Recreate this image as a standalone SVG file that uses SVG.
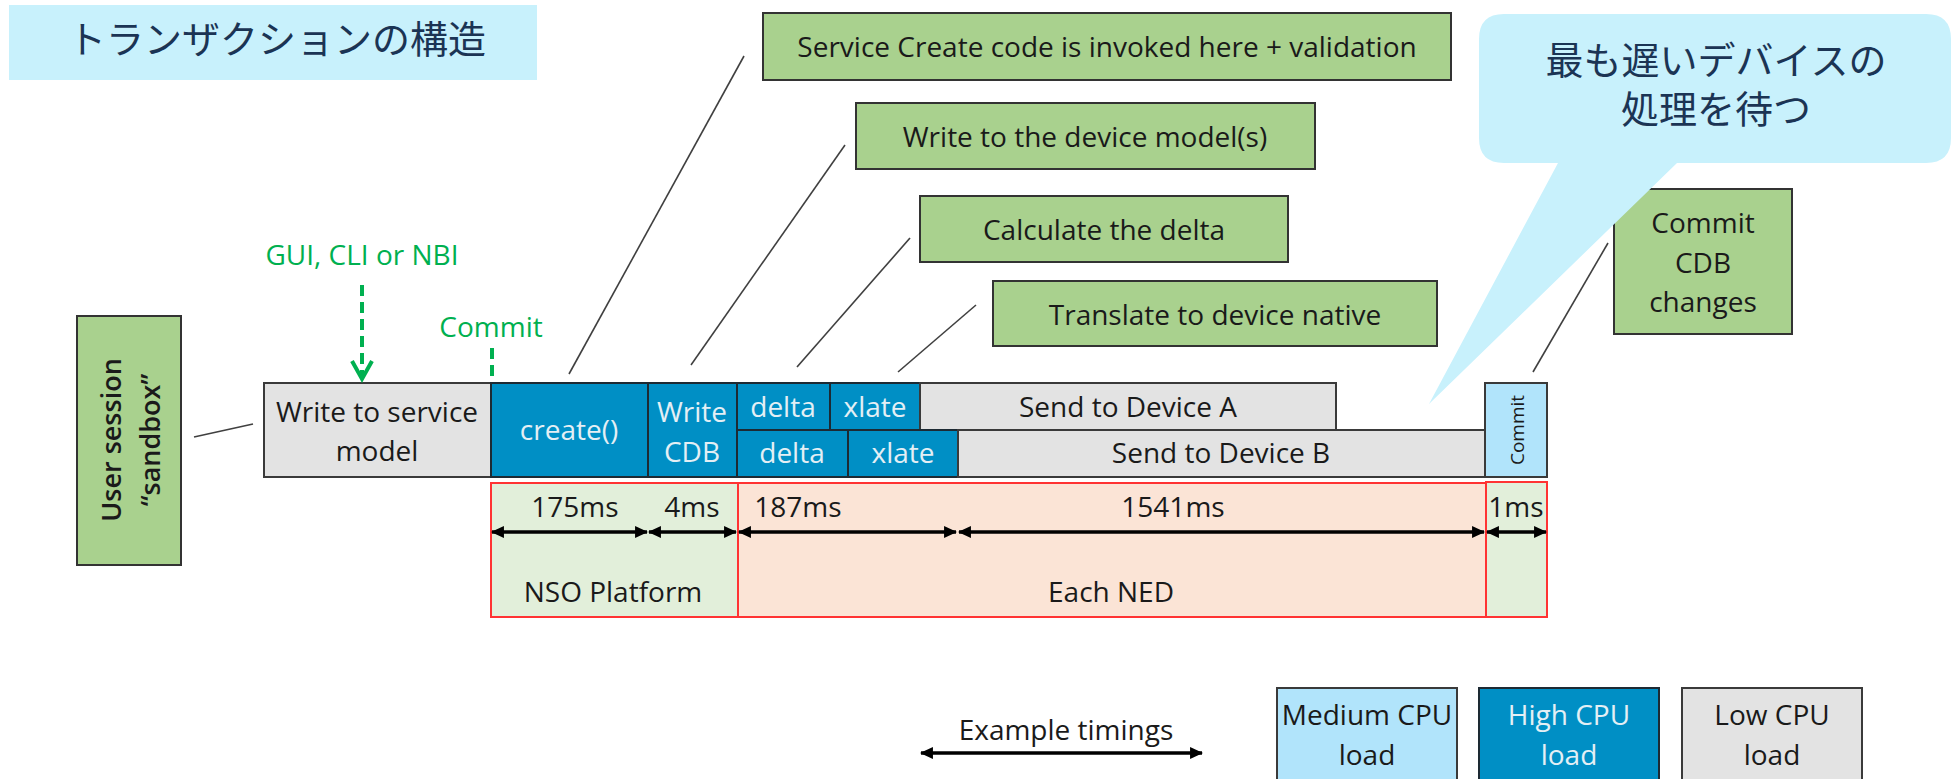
<svg xmlns="http://www.w3.org/2000/svg" width="1951" height="779" viewBox="0 0 1951 779">
  <defs>
    <!-- filled head used by the timing spans -->
    <marker id="head" viewBox="0 0 12 12" refX="11" refY="6" markerWidth="13" markerHeight="13" markerUnits="userSpaceOnUse" orient="auto-start-reverse">
      <path d="M0,0.5 L12,6 L0,11.5 z" fill="#000"/>
    </marker>
  </defs>
  <style>
    text { font-family: "Open Sans", "Liberation Sans", sans-serif; font-size: 28px; fill: #1a1a1a; text-anchor: middle; }
    .jp { font-family: "Noto Sans CJK JP", "Noto Sans CJK SC", sans-serif; font-size: 38px; fill: #1b3454; }
    .note { fill: #a9d18e; stroke: #333; stroke-width: 2; }
    .low { fill: #e3e3e3; stroke: #3a3a3a; stroke-width: 2; }
    .high { fill: #008fc5; stroke: #1d2a33; stroke-width: 2; }
    .med { fill: #b1e4fb; stroke: #3a3a3a; stroke-width: 2; }
    .hi-t { fill: #e4eff5; }
    .green-t { fill: #00b050; }
    .lead { stroke: #404040; stroke-width: 1.6; fill: none; }
    .dash { stroke: #00b050; stroke-width: 4; stroke-dasharray: 11 6; fill: none; }
    .span { stroke: #000; stroke-width: 3.5; fill: none; marker-start: url(#head); marker-end: url(#head); }
    .plat { fill: #e2efda; stroke: #ff3333; stroke-width: 2; }
    .ned { fill: #fbe4d6; stroke: #ff3333; stroke-width: 2; }
    .bubble { fill: #c8f1fc; }
  </style>

  <!-- heading -->
  <g id="title">
    <rect x="9" y="5" width="528" height="75" class="bubble"/>
    <text class="jp" x="277" y="53">トランザクションの構造</text>
  </g>

  <!-- timing bands under the bars -->
  <g id="band-platform">
    <rect class="plat" x="491" y="483" width="247" height="134"/>
    <text x="613" y="602">NSO Platform</text>
  </g>
  <g id="band-ned">
    <rect class="ned" x="738" y="483" width="748" height="134"/>
    <text x="1111" y="602">Each NED</text>
  </g>
  <g id="band-commit">
    <rect class="plat" x="1486" y="482" width="61" height="135"/>
  </g>

  <!-- timeline bars -->
  <g id="bar-write-service">
    <rect class="low" x="264" y="383" width="227" height="94"/>
    <text x="377" y="422">Write to service</text>
    <text x="377" y="461">model</text>
  </g>
  <g id="bar-create">
    <rect class="high" x="491" y="383" width="157" height="94"/>
    <text class="hi-t" x="569" y="440">create()</text>
  </g>
  <g id="bar-write-cdb">
    <rect class="high" x="648" y="383" width="89" height="94"/>
    <text class="hi-t" x="692" y="422">Write</text>
    <text class="hi-t" x="692" y="462">CDB</text>
  </g>
  <g id="bar-delta-a">
    <rect class="high" x="737" y="383" width="93" height="47"/>
    <text class="hi-t" x="783" y="417">delta</text>
  </g>
  <g id="bar-xlate-a">
    <rect class="high" x="830" y="383" width="90" height="47"/>
    <text class="hi-t" x="875" y="417">xlate</text>
  </g>
  <g id="bar-send-a">
    <rect class="low" x="920" y="383" width="416" height="47"/>
    <text x="1128" y="417">Send to Device A</text>
  </g>
  <g id="bar-delta-b">
    <rect class="high" x="737" y="430" width="111" height="47"/>
    <text class="hi-t" x="792" y="463">delta</text>
  </g>
  <g id="bar-xlate-b">
    <rect class="high" x="848" y="430" width="110" height="47"/>
    <text class="hi-t" x="903" y="463">xlate</text>
  </g>
  <g id="bar-send-b">
    <rect class="low" x="958" y="430" width="527" height="47"/>
    <text x="1221" y="463">Send to Device B</text>
  </g>
  <g id="bar-commit">
    <rect class="med" x="1485" y="383" width="62" height="94"/>
    <text transform="translate(1524,430) rotate(-90)" style="font-size:19px">Commit</text>
  </g>

  <!-- timing labels -->
  <g id="timings">
    <text x="575" y="517">175ms</text>
    <text x="692" y="517">4ms</text>
    <text x="798" y="517">187ms</text>
    <text x="1173" y="517">1541ms</text>
    <text x="1516" y="517">1ms</text>
  </g>

  <!-- entry labels -->
  <g id="label-entry">
    <text class="green-t" x="362" y="265">GUI, CLI or NBI</text>
    <text class="green-t" x="491" y="337">Commit</text>
  </g>

  <!-- side note -->
  <g id="user-session">
    <rect class="note" x="77" y="316" width="104" height="249"/>
    <text transform="translate(121,440) rotate(-90)" style="font-weight:600;font-size:27px">User session</text>
    <text transform="translate(160,440) rotate(-90)" style="font-weight:600;font-size:27px">“sandbox”</text>
  </g>

  <!-- step notes -->
  <g id="note-create">
    <rect class="note" x="763" y="13" width="688" height="67"/>
    <text x="1107" y="57">Service Create code is invoked here + validation</text>
  </g>
  <g id="note-device-model">
    <rect class="note" x="856" y="103" width="459" height="66"/>
    <text x="1085" y="147">Write to the device model(s)</text>
  </g>
  <g id="note-delta">
    <rect class="note" x="920" y="196" width="368" height="66"/>
    <text x="1104" y="240">Calculate the delta</text>
  </g>
  <g id="note-translate">
    <rect class="note" x="993" y="281" width="444" height="65"/>
    <text x="1215" y="325">Translate to device native</text>
  </g>
  <g id="note-commit-cdb">
    <rect class="note" x="1614" y="189" width="178" height="145"/>
    <text x="1703" y="233">Commit</text>
    <text x="1703" y="273">CDB</text>
    <text x="1703" y="312">changes</text>
  </g>

  <!-- connectors -->
  <g id="connectors">
    <line class="lead" x1="744" y1="56" x2="569" y2="374"/>
    <line class="lead" x1="845" y1="145" x2="691" y2="365"/>
    <line class="lead" x1="910" y1="238" x2="797" y2="367"/>
    <line class="lead" x1="976" y1="305" x2="898" y2="372"/>
    <line class="lead" x1="1608" y1="243" x2="1533" y2="372"/>
    <line class="lead" x1="194" y1="437" x2="253" y2="424"/>
    <line class="dash" x1="362" y1="285" x2="362" y2="376"/>
    <polyline points="352,361 362,379 372,361" fill="none" stroke="#00b050" stroke-width="4"/>
    <line class="dash" x1="492" y1="348" x2="492" y2="382"/>
    <line class="span" x1="492" y1="532" x2="647" y2="532"/>
    <line class="span" x1="649" y1="532" x2="736" y2="532"/>
    <line class="span" x1="739" y1="532" x2="956" y2="532"/>
    <line class="span" x1="959" y1="532" x2="1484" y2="532"/>
    <line class="span" x1="1487" y1="532" x2="1546" y2="532"/>
    <line class="span" x1="921" y1="753" x2="1202" y2="753"/>
  </g>

  <!-- speech bubble -->
  <g id="bubble-slowest">
    <path class="bubble" d="M1504,14 H1926 Q1951,14 1951,39 V138 Q1951,163 1926,163 H1677 L1429,404 L1558,163 H1504 Q1479,163 1479,138 V39 Q1479,14 1504,14 Z"/>
    <text class="jp" x="1716" y="74">最も遅いデバイスの<tspan x="1716" dy="49">処理を待つ</tspan></text>
  </g>

  <!-- legend -->
  <g id="legend-timing">
    <text x="1066" y="740">Example timings</text>
  </g>
  <g id="legend-medium">
    <rect class="med" x="1277" y="688" width="180" height="110"/>
    <text x="1367" y="725">Medium CPU</text>
    <text x="1367" y="765">load</text>
  </g>
  <g id="legend-high">
    <rect class="high" x="1479" y="688" width="180" height="110"/>
    <text class="hi-t" x="1569" y="725">High CPU</text>
    <text class="hi-t" x="1569" y="765">load</text>
  </g>
  <g id="legend-low">
    <rect class="low" x="1682" y="688" width="180" height="110"/>
    <text x="1772" y="725">Low CPU</text>
    <text x="1772" y="765">load</text>
  </g>
</svg>
